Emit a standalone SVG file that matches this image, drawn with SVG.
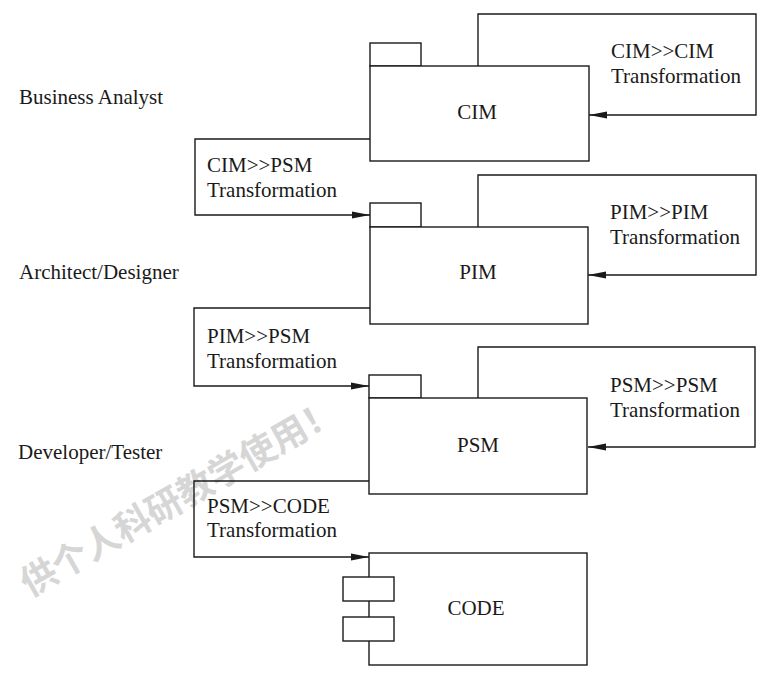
<svg xmlns="http://www.w3.org/2000/svg" width="781" height="676" viewBox="0 0 781 676">
<style>
.box{fill:#fff;stroke:#1a1a1a;stroke-width:1.4}
.ln{fill:none;stroke:#1a1a1a;stroke-width:1.4}
.t{font-family:"Liberation Serif","Times New Roman",serif;font-size:21px;fill:#1a1a1a}
.c{text-anchor:middle}
.wm{font-family:"Noto Sans CJK SC","Noto Sans CJK JP",sans-serif;font-weight:bold;font-size:36px;fill:#d6d6d6;text-anchor:middle}
</style>
<defs>
<marker id="ah" markerUnits="userSpaceOnUse" markerWidth="20" markerHeight="10" refX="18" refY="4" orient="auto">
<path d="M0,0.5 L18,4 L0,7.5 Z" fill="#1a1a1a"/>
</marker>
</defs>
<rect width="781" height="676" fill="#fff"/>
<text class="wm" transform="translate(186,508) rotate(-29.8)">供个人科研教学使用！</text>
<g id="connectors">
<polyline class="ln" points="478,66 478,14 756,14 756,115 589,115" marker-end="url(#ah)"/>
<polyline class="ln" points="370,139 195,139 195,215 370,215" marker-end="url(#ah)"/>
<polyline class="ln" points="478,227 478,175 756,175 756,275 588,275" marker-end="url(#ah)"/>
<polyline class="ln" points="370,308 194,308 194,386 369,386" marker-end="url(#ah)"/>
<polyline class="ln" points="478,398 478,347 755,347 755,447 588,447" marker-end="url(#ah)"/>
<polyline class="ln" points="370,481 194,481 194,557 369,557" marker-end="url(#ah)"/>
<text class="t" x="611" y="58">CIM&gt;&gt;CIM</text>
<text class="t" x="611" y="83">Transformation</text>
<text class="t" x="207" y="172">CIM&gt;&gt;PSM</text>
<text class="t" x="207" y="197">Transformation</text>
<text class="t" x="610" y="219">PIM&gt;&gt;PIM</text>
<text class="t" x="610" y="244">Transformation</text>
<text class="t" x="207" y="343">PIM&gt;&gt;PSM</text>
<text class="t" x="207" y="368">Transformation</text>
<text class="t" x="610" y="392">PSM&gt;&gt;PSM</text>
<text class="t" x="610" y="417">Transformation</text>
<text class="t" x="207" y="513">PSM&gt;&gt;CODE</text>
<text class="t" x="207" y="537">Transformation</text>
</g>
<g id="roles">
<text class="t" x="19" y="104">Business Analyst</text>
<text class="t" x="19" y="279">Architect/Designer</text>
<text class="t" x="18" y="459">Developer/Tester</text>
</g>
<g id="CIM">
<rect class="box" x="370" y="43" width="51" height="23"/>
<rect class="box" x="370" y="66" width="219" height="95"/>
<text class="t c" x="477" y="119">CIM</text>
</g>
<g id="PIM">
<rect class="box" x="370" y="203" width="51" height="24"/>
<rect class="box" x="370" y="227" width="218" height="97"/>
<text class="t c" x="478" y="279">PIM</text>
</g>
<g id="PSM">
<rect class="box" x="369" y="375" width="52" height="23"/>
<rect class="box" x="369" y="398" width="218" height="96"/>
<text class="t c" x="478" y="452">PSM</text>
</g>
<g id="CODE">
<rect class="box" x="369" y="553" width="218" height="112"/>
<rect class="box" x="343" y="577" width="51" height="24"/>
<rect class="box" x="343" y="617" width="51" height="24"/>
<text class="t c" x="476" y="615">CODE</text>
</g>
</svg>
